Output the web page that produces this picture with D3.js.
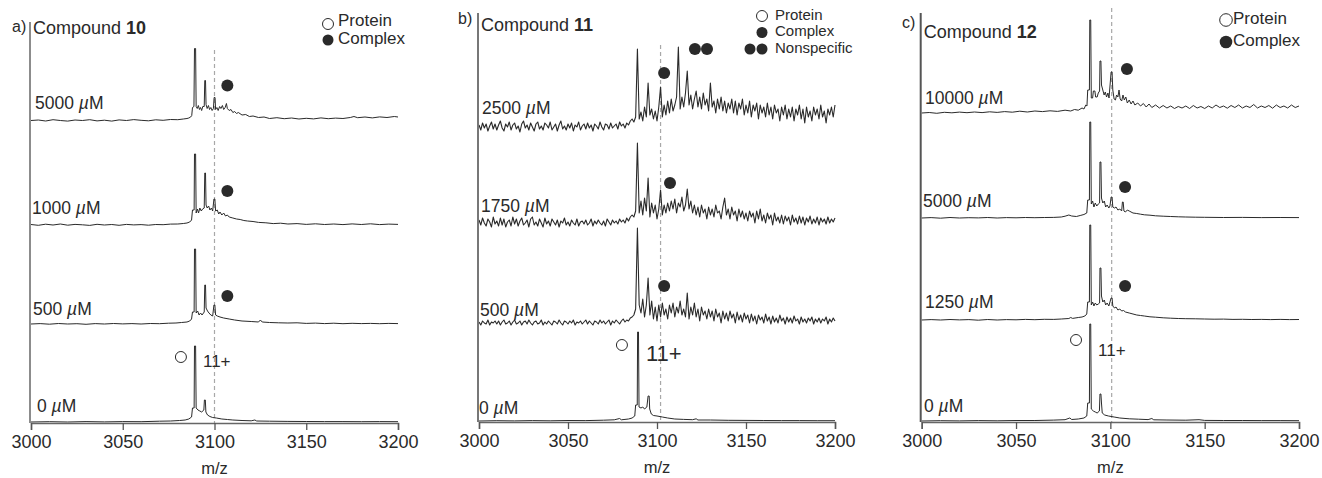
<!DOCTYPE html>
<html><head><meta charset="utf-8">
<script src="https://cdn.jsdelivr.net/npm/d3@7"></script>
<style>body{margin:0;background:#fff}svg{display:block;font-family:"Liberation Sans",Arial,sans-serif}</style>
</head><body>
<svg id="chart" width="1322" height="478"></svg>
<script>
// ---------- data ----------
const mzTicks = [3000, 3050, 3100, 3150, 3200];
const panelLetters = ["a)", "b)", "c)"];
const compoundNumbers = ["10", "11", "12"];
const concA = ["0", "500", "1000", "5000"];
const concB = ["0", "500", "1750", "2500"];
const concC = ["0", "1250", "5000", "10000"];

// spectra as [m/z, intensity] (a.u.)
const a0 = [[3000,0],[3010,0.3],[3020,0],[3030,0.4],[3040,0.1],[3050,0.4],[3060,0.3],[3070,0.8],[3076,1],[3081,1.5],[3084,2],[3086,3],[3087.5,5],[3088,14],[3088.9,14],[3089.1,76],[3089.7,76],[3090,14],[3091,12],[3092,11],[3093,10],[3094.2,12],[3094.5,22],[3095,22],[3095.3,10],[3096.2,7],[3097.5,5.5],[3099,4.5],[3101,4],[3104,3],[3107,2.5],[3110,2],[3115,1.5],[3120,1.2],[3122,2],[3123,1],[3130,0.8],[3140,0.6],[3150,0.5],[3160,0.4],[3170,0.4],[3180,0.3],[3190,0.4],[3200,0.3]];
const a500 = [[3000,0],[3005,0.4],[3010,-0.2],[3015,0.5],[3020,0],[3025,0.3],[3030,-0.3],[3035,0.4],[3040,0],[3045,0.5],[3050,0.1],[3055,0.4],[3060,0],[3065,0.5],[3070,0.3],[3075,0.8],[3079,1],[3082,1.5],[3085,2],[3086.5,3],[3087.5,5],[3088,12],[3088.9,12],[3089.1,75],[3089.7,75],[3090,11],[3090.8,13],[3091.6,9],[3092.4,11],[3093.2,9],[3094.4,12],[3094.7,39],[3095.1,39],[3095.4,16],[3096.2,13],[3097,11],[3098,9],[3099,8],[3099.7,19],[3100.2,19],[3100.6,9],[3101.5,8],[3103,7],[3105,6],[3108,5],[3111,4],[3115,3],[3120,2.5],[3124,2],[3125,4],[3126,2],[3130,1.5],[3135,1.2],[3140,1],[3145,1.2],[3150,0.6],[3155,0.9],[3160,0.4],[3165,0.8],[3170,0.3],[3175,0.7],[3180,0.4],[3185,0.6],[3190,0.3],[3195,0.6],[3200,0.4]];
const a1000 = [[3000,0.5],[3004,-0.3],[3008,0.8],[3012,0],[3016,1],[3020,-0.2],[3024,0.6],[3028,0.2],[3032,-0.4],[3036,0.7],[3040,0],[3044,0.5],[3048,-0.3],[3052,0.6],[3056,0.1],[3060,0.4],[3064,-0.2],[3068,0.5],[3072,0.3],[3076,0.9],[3080,1],[3083,1.5],[3085,2],[3086.5,3],[3087.5,5],[3088,15],[3088.9,15],[3089.1,71],[3089.7,71],[3090,12],[3090.7,16],[3091.3,12],[3092,17],[3092.8,14],[3093.5,16],[3094.4,17],[3094.7,52],[3095.1,52],[3095.4,20],[3096,17],[3096.8,19],[3097.5,15],[3098.3,17],[3099,14],[3099.7,26],[3100.2,26],[3100.6,14],[3101.5,15],[3102.3,11],[3103,13],[3104,10],[3105,12],[3106,9],[3107,10],[3108,8],[3110,7],[3112,6],[3114,5.5],[3116,4.5],[3118,4],[3121,3.5],[3124,2.6],[3128,2.2],[3132,1.4],[3136,1.8],[3140,1],[3145,1.4],[3150,0.6],[3155,1.2],[3160,0.5],[3165,1],[3170,0.4],[3175,1.1],[3180,0.5],[3185,1.2],[3190,0.4],[3195,0.9],[3200,0.6]];
const a5000 = [[3000,0],[3004,0.5],[3008,-0.5],[3012,0.8],[3016,0],[3020,-0.6],[3024,0.5],[3028,0],[3032,0.8],[3036,-0.4],[3040,0.3],[3044,-0.6],[3048,0.6],[3052,0],[3056,0.9],[3060,0.2],[3064,-0.3],[3068,0.7],[3072,0.2],[3076,1],[3080,0.8],[3083,1.5],[3085,2],[3086,2.5],[3087,3.5],[3087.6,5],[3088,13],[3088.8,14],[3089.1,72],[3089.7,72],[3090,14],[3090.6,12],[3091.2,15],[3091.8,11],[3092.4,13],[3093,10],[3093.6,14],[3094.4,14],[3094.7,40],[3095.1,40],[3095.4,16],[3096,12],[3096.7,15],[3097.3,11],[3098,13],[3098.7,10],[3099.4,12],[3099.8,23],[3100.3,23],[3100.6,11],[3101.3,13],[3102,10],[3102.8,14],[3103.5,12],[3104.3,15],[3105,11],[3105.8,13],[3106.5,17],[3107,12],[3108,10],[3109,11],[3110,8],[3111,9],[3112,7],[3113,8],[3115,5.5],[3117,6],[3119,4],[3121,4.5],[3124,3],[3127,3.5],[3130,2],[3134,2.8],[3138,1.8],[3142,2.5],[3146,1.5],[3150,2.2],[3154,1.6],[3158,2.6],[3162,1.8],[3166,2.4],[3170,2],[3174,3],[3176,4],[3178,2.8],[3182,3.5],[3186,2.6],[3190,3.6],[3194,3],[3198,4],[3200,3.5]];

const b0 = [[3000,0],[3010,0.3],[3020,0.1],[3030,0.4],[3040,0.2],[3050,0.5],[3060,0.4],[3070,0.8],[3076,1.2],[3079,2.5],[3080,1.2],[3084,2],[3086,3],[3087.5,5],[3088,16],[3088.9,16],[3089.1,89],[3089.6,89],[3089.9,14],[3091,13],[3092,14],[3093,12],[3094.3,14],[3095,25],[3095.6,25],[3095.9,12],[3096.8,7],[3098,5.5],[3100,5],[3103,4],[3106,3],[3110,2],[3115,1.6],[3120,1.3],[3122,2.2],[3123,1],[3130,1],[3140,0.7],[3150,0.6],[3160,0.5],[3170,0.4],[3180,0.4],[3190,0.3],[3200,0.3]];
// noisy spectra sampled every 1 m/z from 3000 to 3200
const b500 = [1,-2,2,0,-1,3,-2,1,0,2, -1,2,-2,1,3,-1,0,2,-2,1, 3,-1,0,2,-2,1,2,-1,3,0, -2,1,2,-1,0,3,-2,1,-1,2, 0,-2,2,1,-1,3,0,-2,2,1, -1,2,0,3,-2,1,0,2,-1,1, 3,-1,2,0,-2,2,1,-1,3,0, 2,-1,1,3,-2,2,0,3,1,-1, 2,4,1,3,2,5,6,8,14,95, 18,10,24,6,18,45,8,22,4,16, 2,18,6,20,8,14,4,18,10,20, 6,16,10,22,8,14,6,30,4,16, 8,20,6,14,2,16,8,12,4,14, 6,12,2,14,6,10,0,12,4,10, 2,12,5,9,0,11,3,8,1,10, 4,8,0,9,2,7,-1,8,3,6, 0,9,2,6,-1,7,1,5,0,8, 2,5,-1,6,1,5,0,7,2,4, -1,6,1,4,0,5,2,6,-1,4, 1,5,0,4,2,6,-1,4,1,5, 2];
const b1750 = [3,-2,5,0,-3,4,1,-4,6,-1, 2,-3,5,-2,4,-4,1,3,-3,6, -1,4,-3,2,5,-2,0,3,-4,4, 6,-2,1,-3,4,0,-4,5,-1,2, -3,4,1,-2,3,-4,2,0,5,-2, 1,-3,3,0,-2,4,-3,1,2,-1, 3,-2,0,4,-3,2,-1,3,0,-2, 2,-3,4,1,-2,3,0,2,-1,4, 1,3,0,5,2,6,8,6,12,80, 10,22,8,25,12,45,6,20,10,18, 4,14,33,8,18,10,20,12,22,14, 24,10,20,16,26,12,18,34,14,22, 10,18,8,16,6,18,10,14,4,16, 8,14,6,18,10,12,4,16,25,8, 14,4,16,8,12,2,14,6,12,4, 10,2,12,6,10,0,12,4,14,2, 8,0,10,4,8,-2,10,2,6,0, 8,-1,7,2,6,-2,8,1,5,-1, 7,0,6,-2,5,1,7,-1,4,0, 6,-2,5,1,4,-1,6,0,4,1, 5];
const b2500 = [2,-3,4,-1,3,-4,1,5,-2,3, -3,2,6,-1,-4,3,0,5,-3,2, 4,-2,1,-5,3,6,-1,2,-3,4, 0,-4,3,5,-2,1,-3,4,2,-1, 5,-3,0,3,-4,2,6,-2,1,-3, 3,-1,4,-4,2,0,5,-3,1,3, -2,4,-1,2,-4,3,1,-2,5,0, -3,3,2,-2,4,-1,1,3,-2,5, 1,3,-1,4,2,6,8,5,10,78, 8,15,6,20,10,44,12,18,8,16, 6,20,40,10,22,12,26,14,28,16, 22,30,80,18,30,20,34,56,22,32, 18,28,36,20,30,18,34,22,28,16, 44,20,26,14,28,18,30,16,26,14, 24,18,28,14,26,12,24,18,28,12, 22,14,26,10,22,16,24,8,22,14, 20,10,24,12,20,8,22,14,18,6, 20,12,22,8,18,10,20,6,18,12, 22,8,18,4,20,10,16,6,20,12, 18,8,22,10,16,4,18,12,20,10, 22];

const c0 = [[3000,0],[3010,0.3],[3020,0.1],[3030,0.4],[3040,0.2],[3050,0.5],[3060,0.5],[3070,0.9],[3076,1.3],[3078.5,3],[3079.5,1.5],[3083,2],[3086,3],[3087.5,5],[3088,18],[3088.9,18],[3089.1,97],[3089.6,97],[3089.9,12],[3091,10],[3092,9],[3093,8],[3094.2,10],[3094.5,27],[3095,27],[3095.3,18],[3095.7,8],[3097,6],[3099,5],[3102,4],[3105,3],[3110,2.2],[3115,1.8],[3120,1.4],[3122,2.5],[3123,1.2],[3130,1],[3140,0.8],[3147,1.3],[3150,0.6],[3160,0.5],[3170,0.5],[3180,0.4],[3190,0.4],[3200,0.3]];
const c1250 = [[3000,0],[3005,0.4],[3010,0],[3015,0.5],[3020,0.1],[3025,0.4],[3030,-0.2],[3035,0.5],[3040,0],[3045,0.4],[3050,0.2],[3055,0.6],[3060,0.3],[3065,0.7],[3070,0.6],[3074,1],[3078,1.5],[3079,2.5],[3080,1.6],[3083,2.5],[3085,3],[3086.5,4],[3087.5,6],[3088,18],[3088.9,18],[3089.1,95],[3089.6,95],[3089.9,15],[3090.6,18],[3091.3,14],[3092,17],[3092.8,15],[3093.6,16],[3094.3,17],[3094.5,52],[3095,52],[3095.3,24],[3096,18],[3096.8,20],[3097.5,15],[3098.3,17],[3099.2,14],[3100.4,22],[3100.9,22],[3101.3,14],[3102.2,12],[3103,13],[3104,10],[3105,11],[3106,9],[3107,9.5],[3108,8],[3110,7],[3112,6],[3114,5],[3116,4.5],[3118,4],[3121,3.2],[3124,2.8],[3128,2.2],[3132,1.8],[3136,1.5],[3140,1.3],[3145,1.2],[3150,1],[3155,0.8],[3160,0.9],[3165,0.6],[3170,0.7],[3175,0.5],[3180,0.6],[3185,0.4],[3190,0.6],[3195,0.4],[3200,0.5]];
const c5000 = [[3000,0],[3005,0.4],[3010,-0.2],[3015,0.5],[3020,0],[3025,0.3],[3030,0.1],[3035,0.5],[3040,0],[3045,0.4],[3050,0.2],[3055,0.5],[3060,0.3],[3065,0.5],[3070,0.6],[3074,1],[3076,1.8],[3078,3],[3079.5,2],[3082,1.5],[3084,2.5],[3086,3.5],[3087.5,5],[3088,18],[3088.9,18],[3089.1,96],[3089.6,96],[3089.9,14],[3090.6,17],[3091.3,11],[3092,15],[3092.8,12],[3093.6,14],[3094.3,15],[3094.5,56],[3095,56],[3095.3,20],[3096,15],[3096.8,17],[3097.5,11],[3098.3,13],[3099.2,10],[3099.8,12],[3100.4,21],[3100.9,21],[3101.3,11],[3102.2,10],[3103,11],[3104,8],[3105,9],[3106,7],[3106.4,16],[3106.8,16],[3107.2,7],[3108,6],[3109,8],[3110,7],[3112,5],[3114,4.5],[3116,3.8],[3118,3.2],[3121,2.8],[3124,2.2],[3128,1.8],[3132,1.5],[3136,1.2],[3140,1],[3145,0.8],[3150,0.7],[3160,0.5],[3170,0.6],[3180,0.4],[3190,0.5],[3200,0.4]];
const c10000 = [[3000,0],[3004,0.5],[3008,-0.3],[3012,0.7],[3016,0.2],[3020,0.9],[3024,0.3],[3028,1],[3032,0.4],[3036,1.2],[3040,0.6],[3044,1.4],[3048,0.8],[3052,1.8],[3056,1],[3060,2],[3064,1.4],[3068,2.2],[3072,1.6],[3076,2.8],[3079,2],[3081,3.5],[3083,2.8],[3085,5],[3086,4],[3087,8],[3087.6,7],[3088,23],[3088.9,23],[3089.1,93],[3089.6,93],[3089.9,15],[3090.6,15],[3091,22],[3091.8,22],[3092.2,16],[3093,16],[3093.6,20],[3094.3,22],[3094.5,52],[3095,52],[3095.3,28],[3096,23],[3096.7,18],[3097.3,21],[3098,16],[3098.7,20],[3099.3,15],[3100.4,41],[3100.9,41],[3101.3,23],[3102,14],[3102.7,13],[3103.3,18],[3104,16],[3104.6,23],[3105.2,14],[3106,12],[3106.7,18],[3107.4,13],[3108.2,16],[3109,10],[3110,13],[3111,9],[3112,12],[3113,8],[3114.5,10],[3116,7],[3117.5,9.5],[3119,6],[3120.5,9],[3122,5.5],[3124,8],[3126,5],[3128,7.5],[3130,5],[3132,7],[3134,4.5],[3136,6.5],[3138,5],[3140,7],[3142,4.5],[3144,7.5],[3146,5],[3148,6.5],[3150,4.5],[3152,7],[3154,5],[3156,8],[3158,5.5],[3160,7],[3162,4.8],[3164,7.5],[3166,5.5],[3168,8],[3170,5],[3172,7],[3174,5.5],[3176,8.5],[3178,5],[3180,7],[3182,5.5],[3184,7.5],[3186,4.8],[3188,8],[3190,5.5],[3192,7],[3194,5],[3196,8],[3198,5.5],[3200,7]];

// annotation anchors: [trace index, m/z, height above trace baseline]
const complexMarksA = [[3,3107,35],[2,3107,34],[1,3107,28]];
const complexMarksB = [[3,3104,54],[2,3107.3,40],[1,3104,37]];
const complexMarksC = [[3,3108.8,44],[2,3107.8,31],[1,3107.8,34]];
const nonspecificMarkB = [[3,3121.3,78],[3,3128.1,78]];
const proteinMarks = [[3081.7,65],[3080.3,76],[3081.8,81]];
const chargeLabels = [[3093.7,59],[3093.8,66],[3093.5,69]];
const dashMz = [3100, 3102, 3100.7];

// ---------- drawing ----------
const toPairs = arr => arr.map((v, i) => [3000 + i, v]);
const panels = [
  {x0:31, x1:398, axisY:423, top:22, dashTop:50, offsets:[1,99,198,302.5], conc:concA,
   traces:[a0,a500,a1000,a5000], marks:complexMarksA, labelX:[37,33,32,35], labelDy:[15,14,16,17],
   legend:{cx:328, tx:338, rows:[22,40], r:5.5, fs:17}, chargeSize:17, axisColor:"#8c8c8c"},
  {x0:479, x1:835, axisY:422, top:13, dashTop:45, offsets:[1,99,199,295], conc:concB,
   traces:[b0,toPairs(b500),toPairs(b1750),toPairs(b2500)], marks:complexMarksB, labelX:[479,480,481,482], labelDy:[12,12,16,18],
   legend:{cx:762, tx:775, rows:[16,32.5,49], r:5.5, fs:15}, chargeSize:22, axisColor:"#777"},
  {x0:921.7, x1:1299, axisY:422, top:13, dashTop:8, offsets:[1,102,204,309], conc:concC,
   traces:[c0,c1250,c5000,c10000], marks:complexMarksC, labelX:[924,925,923,925], labelDy:[14,17,16,14],
   legend:{cx:1226, tx:1233, rows:[20,42], r:6.3, fs:17}, chargeSize:17, axisColor:"#555"}
];

const svg = d3.select("#chart");
const ink = "#2a2a2a";

panels.forEach((p, pi) => {
  const x = d3.scaleLinear().domain([3000, 3200]).range([p.x0, p.x1]);
  const y = d3.scaleLinear().domain([0, 400]).range([p.axisY, p.axisY - 400]);
  const g = svg.append("g");

  // dashed reference line
  g.append("line").attr("x1", x(dashMz[pi])).attr("x2", x(dashMz[pi]))
    .attr("y1", p.dashTop).attr("y2", p.axisY)
    .attr("stroke", "#a8a8a8").attr("stroke-width", 1.2).attr("stroke-dasharray", "4,3");

  // spectra
  const line = d3.line().x(d => x(d[0]));
  p.traces.forEach((t, ti) => {
    line.y(d => y(d[1] + p.offsets[ti]));
    g.append("path").attr("d", line(t)).attr("fill", "none")
      .attr("stroke", ink).attr("stroke-width", pi === 1 && ti > 0 ? 1.1 : 1).attr("stroke-linejoin", "round");
    // concentration label
    const lt = g.append("text").attr("x", p.labelX[ti]).attr("y", y(p.offsets[ti]) - p.labelDy[ti])
      .attr("dominant-baseline", "middle").attr("font-size", 17.5).attr("fill", ink);
    lt.append("tspan").text(p.conc[ti] + " ");
    lt.append("tspan").attr("font-style", "italic").text("\u00b5");
    lt.append("tspan").text("M");
  });

  // axes
  g.append("line").attr("x1", p.x0 - 1).attr("x2", p.x0 - 1).attr("y1", p.top).attr("y2", p.axisY)
    .attr("stroke", p.axisColor).attr("stroke-width", 2);
  const ax = g.append("g").attr("transform", `translate(0,${p.axisY})`)
    .call(d3.axisBottom(x).tickValues(mzTicks).tickSize(7).tickPadding(5).tickFormat(d3.format("d")));
  ax.select(".domain").attr("stroke", "#666").attr("stroke-width", 1.5);
  ax.selectAll(".tick line").attr("stroke", "#555").attr("stroke-width", 1.3);
  ax.selectAll(".tick text").attr("font-size", 18).attr("fill", ink).attr("font-family", "Liberation Sans, Arial, sans-serif");
  g.append("text").attr("x", x(3100)).attr("y", p.axisY + 51).attr("text-anchor", "middle")
    .attr("font-size", 16.5).attr("fill", ink).text("m/z");

  // title
  const titleY = [29, 26, 33][pi];
  const letterX = [12, 458, 902][pi];
  const letterY = [28, 20, 24][pi];
  g.append("text").attr("x", letterX).attr("y", letterY).attr("dominant-baseline", "middle")
    .attr("font-size", 16).attr("fill", ink).text(panelLetters[pi]);
  const tt = g.append("text").attr("x", p.x0 + 2).attr("y", titleY).attr("dominant-baseline", "middle")
    .attr("font-size", 18).attr("fill", ink);
  tt.append("tspan").text("Compound ");
  tt.append("tspan").attr("font-weight", "bold").text(compoundNumbers[pi]);

  // complex markers
  p.marks.forEach(m => {
    g.append("circle").attr("cx", x(m[1])).attr("cy", y(p.offsets[m[0]] + m[2])).attr("r", 6).attr("fill", ink);
  });
  if (pi === 1) {
    nonspecificMarkB.forEach(m => {
      g.append("circle").attr("cx", x(m[1])).attr("cy", y(p.offsets[m[0]] + m[2])).attr("r", 6).attr("fill", ink);
    });
  }
  // protein marker & charge label
  const pm = proteinMarks[pi];
  g.append("circle").attr("cx", x(pm[0])).attr("cy", y(p.offsets[0] + pm[1])).attr("r", 5.5)
    .attr("fill", "#fff").attr("stroke", ink).attr("stroke-width", 1);
  const cl = chargeLabels[pi];
  g.append("text").attr("x", x(cl[0])).attr("y", y(p.offsets[0] + cl[1])).attr("dominant-baseline", "middle")
    .attr("font-size", p.chargeSize).attr("fill", ink).text("11+");

  // legend
  const L = p.legend;
  const names = pi === 1 ? ["Protein", "Complex", "Nonspecific"] : ["Protein", "Complex"];
  names.forEach((n, i) => {
    const cy = L.rows[i];
    if (i === 0) {
      g.append("circle").attr("cx", L.cx).attr("cy", cy + (pi === 0 ? 2 : 0)).attr("r", L.r)
        .attr("fill", "#fff").attr("stroke", ink).attr("stroke-width", 1);
    } else if (i === 1) {
      g.append("circle").attr("cx", L.cx).attr("cy", cy).attr("r", L.r).attr("fill", ink);
    } else {
      g.append("circle").attr("cx", L.cx - 12).attr("cy", cy).attr("r", L.r).attr("fill", ink);
      g.append("circle").attr("cx", L.cx).attr("cy", cy).attr("r", L.r).attr("fill", ink);
    }
    g.append("text").attr("x", L.tx).attr("y", cy).attr("dominant-baseline", "middle")
      .attr("font-size", L.fs).attr("fill", ink).text(n);
  });
});
</script>
</body></html>
